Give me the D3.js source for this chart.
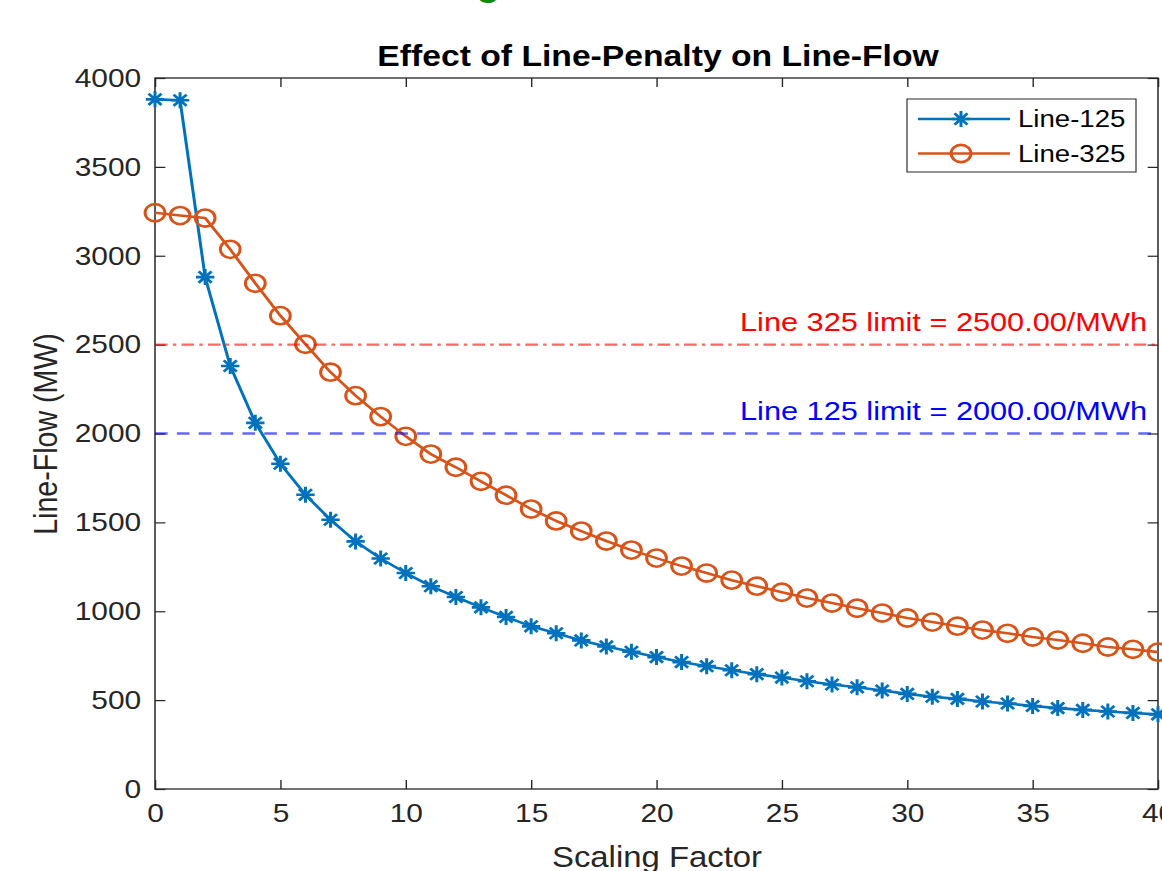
<!DOCTYPE html>
<html>
<head>
<meta charset="utf-8">
<script src="https://cdn.jsdelivr.net/npm/d3@7"></script>
<style>
  body { margin: 0; background: #fff; }
  svg { display: block; }
  text { font-family: "Liberation Sans", Arial, Helvetica, sans-serif; }
</style>
</head>
<body>
<svg id="chart" width="1162" height="871"></svg>
<script>
// ─── Data ──────────────────────────────────────────────────────
const scalingFactor = [0, 1, 2, 3, 4, 5, 6, 7, 8, 9, 10, 11, 12, 13, 14, 15, 16, 17, 18, 19, 20,
  21, 22, 23, 24, 25, 26, 27, 28, 29, 30, 31, 32, 33, 34, 35, 36, 37, 38, 39, 40];

const line125 = [3880, 3875, 2880, 2380, 2060, 1830, 1655, 1515, 1393, 1297, 1215, 1141, 1080, 1022, 968,
  915, 876, 836, 802, 772, 742, 714, 691, 668, 646, 627, 606, 588, 572, 554, 535,
  519, 507, 492, 481, 467, 455, 445, 436, 428, 420];

const line325 = [3242, 3226, 3212, 3036, 2845, 2663, 2502, 2345, 2213, 2095, 1984, 1884, 1810, 1731, 1653,
  1575, 1508, 1451, 1395, 1344, 1299, 1254, 1215, 1175, 1141, 1107, 1074, 1046, 1017, 990, 962,
  939, 916, 894, 876, 855, 838, 820, 799, 786, 770];

const seriesNames = ['Line-125', 'Line-325'];
const limitValues = [2500, 2000];
const limitLabels = ['Line 325 limit = 2500.00/MWh', 'Line 125 limit = 2000.00/MWh'];

const xTicks = [0, 5, 10, 15, 20, 25, 30, 35, 40];
const yTicks = [0, 500, 1000, 1500, 2000, 2500, 3000, 3500, 4000];

// ─── Layout (the figure is stretched horizontally) ─────────────
const SX = 1.15;
const axisColor = '#262626';
const blue = '#0072BD';
const orange = '#D95319';

const svg = d3.select('#chart');

// cut-off caption letter at the very top
svg.append('text')
  .attr('x', 476).attr('y', -5)
  .attr('font-size', '40px').attr('font-weight', 'bold')
  .attr('fill', '#0b8a0b')
  .text('g');

const g = svg.append('g').attr('transform', `scale(${SX},1)`);

const x = d3.scaleLinear().domain([0, 40]).range([155 / SX, 1158 / SX]);
const y = d3.scaleLinear().domain([0, 4000]).range([789, 78]);

const [x0, x1] = x.range();
const [y0, y1] = y.range();

// ─── Axes ──────────────────────────────────────────────────────
function styleAxis(sel) {
  sel.select('.domain').remove();
  sel.selectAll('line').attr('stroke', axisColor).attr('stroke-width', 1.2);
  sel.selectAll('text').attr('fill', axisColor).attr('font-size', '26px')
    .attr('font-family', '"Liberation Sans", Arial, Helvetica, sans-serif');
}

const fmt = d3.format('d');

g.append('g')
  .attr('transform', `translate(0,${y0})`)
  .call(d3.axisBottom(x).tickValues(xTicks).tickFormat(fmt).tickSizeInner(-9).tickSizeOuter(0).tickPadding(15))
  .call(styleAxis);

g.append('g')
  .attr('transform', `translate(${x0},0)`)
  .call(d3.axisLeft(y).tickValues(yTicks).tickFormat(fmt).tickSizeInner(-9).tickSizeOuter(0).tickPadding(12))
  .call(styleAxis);

g.append('g')
  .attr('transform', `translate(0,${y1})`)
  .call(d3.axisTop(x).tickValues(xTicks).tickSizeInner(-9).tickSizeOuter(0).tickFormat(''))
  .call(styleAxis);

g.append('g')
  .attr('transform', `translate(${x1},0)`)
  .call(d3.axisRight(y).tickValues(yTicks).tickSizeInner(-9).tickSizeOuter(0).tickFormat(''))
  .call(styleAxis);

g.append('rect')
  .attr('x', x0).attr('y', y1)
  .attr('width', x1 - x0).attr('height', y0 - y1)
  .attr('fill', 'none')
  .attr('stroke', axisColor)
  .attr('stroke-width', 1.3);

// ─── Series ────────────────────────────────────────────────────
const line = d3.line()
  .x((d, i) => x(scalingFactor[i]))
  .y(d => y(d));

const starPath = (r) => {
  const a = r * 0.707;
  return `M${-r},0H${r}M0,${-r}V${r}M${-a},${-a}L${a},${a}M${-a},${a}L${a},${-a}`;
};

function drawStar(sel) {
  sel.append('path')
    .attr('d', starPath(8))
    .attr('fill', 'none')
    .attr('stroke', blue)
    .attr('stroke-width', 2.6);
}

function drawCircle(sel) {
  sel.append('circle')
    .attr('r', 8.6)
    .attr('fill', 'none')
    .attr('stroke', orange)
    .attr('stroke-width', 2.6);
}

const series = [
  { name: seriesNames[0], values: line125, color: blue, marker: drawStar },
  { name: seriesNames[1], values: line325, color: orange, marker: drawCircle }
];

series.forEach(s => {
  g.append('path')
    .datum(s.values)
    .attr('d', line)
    .attr('fill', 'none')
    .attr('stroke', s.color)
    .attr('stroke-width', 2.6)
    .attr('stroke-linejoin', 'round');

  g.append('g').selectAll('g')
    .data(s.values)
    .enter()
    .append('g')
    .attr('transform', (d, i) => `translate(${x(scalingFactor[i])},${y(d)})`)
    .each(function () { s.marker(d3.select(this)); });
});

// ─── Limit lines ───────────────────────────────────────────────
const limitStyle = [
  { color: '#ff0000', dash: '11,4.5,3,4.5', labelY: 331 },
  { color: '#0000ff', dash: '11,8', labelY: 420 }
];

limitValues.forEach((v, i) => {
  g.append('line')
    .attr('x1', x0).attr('x2', x1)
    .attr('y1', y(v)).attr('y2', y(v))
    .attr('stroke', limitStyle[i].color)
    .attr('stroke-opacity', 0.6)
    .attr('stroke-width', 2.4)
    .attr('stroke-dasharray', limitStyle[i].dash);

  g.append('text')
    .attr('x', 1147 / SX)
    .attr('y', limitStyle[i].labelY)
    .attr('text-anchor', 'end')
    .attr('font-size', '26.7px')
    .attr('fill', limitStyle[i].color)
    .text(limitLabels[i]);
});

// ─── Legend ────────────────────────────────────────────────────
const lg = g.append('g');
lg.append('rect')
  .attr('x', 907 / SX).attr('y', 99)
  .attr('width', (1136 - 907) / SX).attr('height', 73)
  .attr('fill', '#fff')
  .attr('stroke', axisColor)
  .attr('stroke-width', 1);

series.forEach((s, i) => {
  const ry = 119 + i * 34.5;
  lg.append('line')
    .attr('x1', 918 / SX).attr('x2', 1010 / SX)
    .attr('y1', ry).attr('y2', ry)
    .attr('stroke', s.color)
    .attr('stroke-width', 2.6);
  const m = lg.append('g').attr('transform', `translate(${961 / SX},${ry})`);
  s.marker(m);
  lg.append('text')
    .attr('x', 1018 / SX)
    .attr('y', ry + 8.5)
    .attr('font-size', '24px')
    .attr('fill', '#000')
    .text(s.name);
});

// ─── Titles ────────────────────────────────────────────────────
g.append('text')
  .attr('x', 658 / SX).attr('y', 66)
  .attr('text-anchor', 'middle')
  .attr('font-size', '29.3px')
  .attr('font-weight', 'bold')
  .attr('fill', '#000')
  .text('Effect of Line-Penalty on Line-Flow');

g.append('text')
  .attr('x', 657 / SX).attr('y', 867)
  .attr('text-anchor', 'middle')
  .attr('font-size', '28.6px')
  .attr('fill', axisColor)
  .text('Scaling Factor');

g.append('text')
  .attr('transform', `translate(${57 / SX},434) rotate(-90)`)
  .attr('text-anchor', 'middle')
  .attr('font-size', '28.6px')
  .attr('fill', axisColor)
  .text('Line-Flow (MW)');
</script>
</body>
</html>
